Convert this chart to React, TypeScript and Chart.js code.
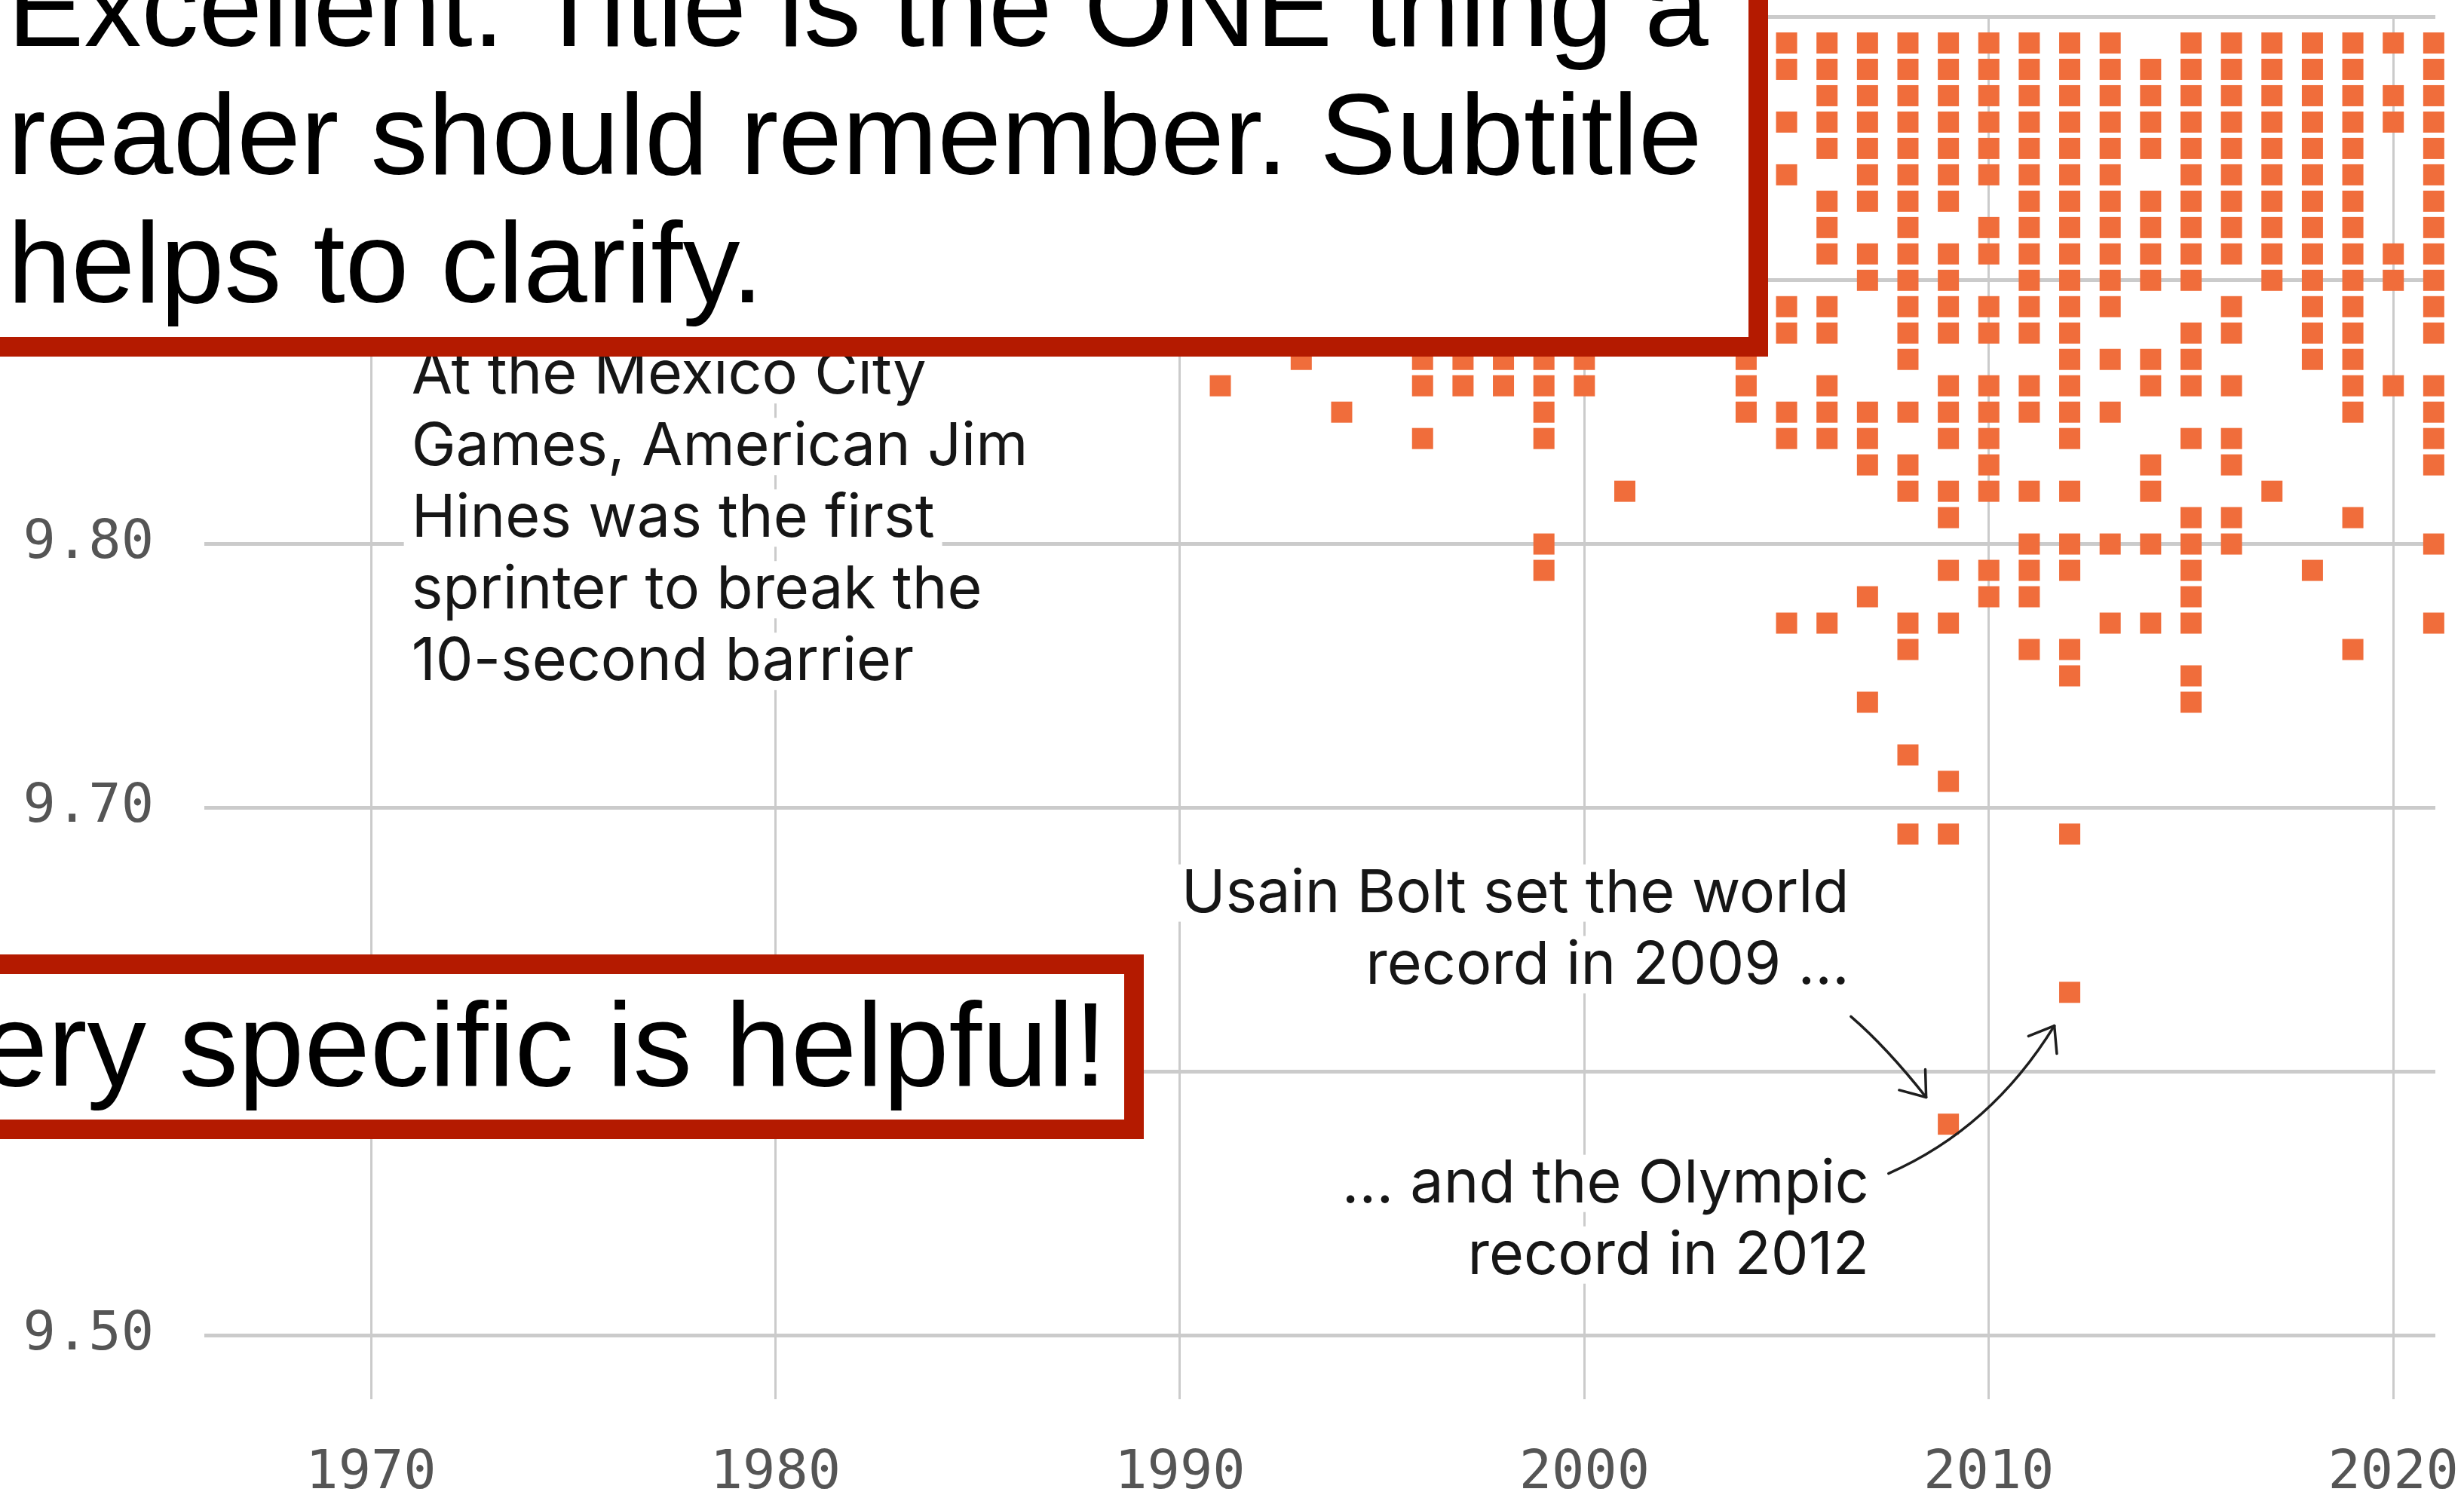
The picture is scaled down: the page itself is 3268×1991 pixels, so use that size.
import React, { useEffect, useRef } from 'react';
import { Chart, registerables } from 'chart.js';

Chart.register(...registerables);

// ---- Data: sub-10 second 100m performances (year, time) visible in the reference ----
const YEARS: number[] = [
  1991, 1993, 1994, 1996, 1997, 1998, 1999, 2000, 2001, 2004, 2005, 2006, 2007, 2008,
  2009, 2010, 2011, 2012, 2013, 2014, 2015, 2016, 2017, 2018, 2019, 2020, 2021,
];

const TIMES: number[][] = [
  [9.86], // 1991
  [9.87], // 1993
  [9.85], // 1994
  [9.87, 9.86, 9.84], // 1996
  [9.87, 9.86], // 1997
  [9.87, 9.86], // 1998
  [9.87, 9.86, 9.85, 9.84, 9.8, 9.79], // 1999
  [9.87, 9.86], // 2000
  [9.82], // 2001
  [9.87, 9.86, 9.85], // 2004
  [9.99, 9.98, 9.96, 9.94, 9.89, 9.88, 9.85, 9.84, 9.77], // 2005
  [9.99, 9.98, 9.97, 9.96, 9.95, 9.93, 9.92, 9.91, 9.89, 9.88, 9.86, 9.85, 9.84, 9.77], // 2006
  [9.99, 9.98, 9.97, 9.96, 9.95, 9.94, 9.93, 9.91, 9.9, 9.85, 9.84, 9.83, 9.78, 9.74], // 2007
  [9.99, 9.98, 9.97, 9.96, 9.95, 9.94, 9.93, 9.92, 9.91, 9.9, 9.89, 9.88, 9.87, 9.85, 9.83, 9.82, 9.77, 9.76, 9.72, 9.69], // 2008
  [9.99, 9.98, 9.97, 9.96, 9.95, 9.94, 9.93, 9.91, 9.9, 9.89, 9.88, 9.86, 9.85, 9.84, 9.82, 9.81, 9.79, 9.77, 9.71, 9.69, 9.58], // 2009
  [9.99, 9.98, 9.97, 9.96, 9.95, 9.94, 9.92, 9.91, 9.89, 9.88, 9.86, 9.85, 9.84, 9.83, 9.82, 9.79, 9.78], // 2010
  [9.99, 9.98, 9.97, 9.96, 9.95, 9.94, 9.93, 9.92, 9.91, 9.9, 9.89, 9.88, 9.86, 9.85, 9.82, 9.8, 9.79, 9.78, 9.76], // 2011
  [9.99, 9.98, 9.97, 9.96, 9.95, 9.94, 9.93, 9.92, 9.91, 9.9, 9.89, 9.88, 9.87, 9.86, 9.85, 9.84, 9.82, 9.8, 9.79, 9.76, 9.75, 9.69, 9.63], // 2012
  [9.99, 9.98, 9.97, 9.96, 9.95, 9.94, 9.93, 9.92, 9.91, 9.9, 9.89, 9.87, 9.85, 9.8, 9.77], // 2013
  [9.98, 9.97, 9.96, 9.95, 9.93, 9.92, 9.91, 9.9, 9.87, 9.86, 9.83, 9.82, 9.8, 9.77], // 2014
  [9.99, 9.98, 9.97, 9.96, 9.95, 9.94, 9.93, 9.92, 9.91, 9.9, 9.88, 9.87, 9.86, 9.84, 9.81, 9.8, 9.79, 9.78, 9.77, 9.75, 9.74], // 2015
  [9.99, 9.98, 9.97, 9.96, 9.95, 9.94, 9.93, 9.92, 9.91, 9.89, 9.88, 9.86, 9.84, 9.83, 9.81, 9.8], // 2016
  [9.99, 9.98, 9.97, 9.96, 9.95, 9.94, 9.93, 9.92, 9.91, 9.9, 9.82], // 2017
  [9.99, 9.98, 9.97, 9.96, 9.95, 9.94, 9.93, 9.92, 9.91, 9.9, 9.89, 9.88, 9.87, 9.79], // 2018
  [9.99, 9.98, 9.97, 9.96, 9.95, 9.94, 9.93, 9.92, 9.91, 9.9, 9.89, 9.88, 9.87, 9.86, 9.85, 9.81, 9.76], // 2019
  [9.99, 9.97, 9.96, 9.91, 9.9, 9.86], // 2020
  [9.99, 9.98, 9.97, 9.96, 9.95, 9.94, 9.93, 9.92, 9.91, 9.9, 9.89, 9.88, 9.86, 9.85, 9.84, 9.83, 9.8, 9.77], // 2021
];

const X_TICKS: number[] = [1970, 1980, 1990, 2000, 2010, 2020];
const Y_TICKS: number[] = [9.5, 9.6, 9.7, 9.8, 9.9, 10.0];

const TITLE_LINES: string[] = [
  'Excellent: Title is the ONE thing a',
  'reader should remember. Subtitle',
  'helps to clarify.',
];
const NOTE_TEXT = 'Being very specific is helpful!';

const HINES_LINES: string[] = [
  'At the Mexico City',
  'Games, American Jim',
  'Hines was the first',
  'sprinter to break the',
  '10-second barrier',
];
const BOLT_LINES: string[] = ['Usain Bolt set the world', 'record in 2009 ...'];
const OLYMPIC_LINES: string[] = ['... and the Olympic', 'record in 2012'];

const ORANGE = '#F06D3B';
const GRID = '#cbcbcb';
const RED = '#B41A00';
const ANNOT_FONT = '79px Inter';
const LINE_H = 95;

function drawLines(ctx: CanvasRenderingContext2D, lines: string[], x: number, y0: number, align: 'left' | 'right') {
  ctx.font = ANNOT_FONT;
  ctx.textAlign = align;
  ctx.textBaseline = 'alphabetic';
  lines.forEach((line, i) => {
    const by = y0 + i * LINE_H;
    const w = ctx.measureText(line).width;
    const left = align === 'left' ? x : x - w;
    ctx.fillStyle = '#ffffff';
    ctx.fillRect(left - 10, by - 63, w + 20, 76);
  });
  lines.forEach((line, i) => {
    const by = y0 + i * LINE_H;
    ctx.fillStyle = '#161616';
    ctx.fillText(line, x, by);
  });
}

function drawArrow(
  ctx: CanvasRenderingContext2D,
  p0: [number, number],
  c: [number, number],
  p1: [number, number],
) {
  ctx.strokeStyle = '#1e1e1e';
  ctx.lineWidth = 3.5;
  ctx.lineCap = 'round';
  ctx.beginPath();
  ctx.moveTo(p0[0], p0[1]);
  ctx.quadraticCurveTo(c[0], c[1], p1[0], p1[1]);
  ctx.stroke();
  const ang = Math.atan2(p1[1] - c[1], p1[0] - c[0]);
  const len = 37;
  for (const s of [-1, 1]) {
    ctx.beginPath();
    ctx.moveTo(p1[0], p1[1]);
    ctx.lineTo(p1[0] - len * Math.cos(ang + s * 0.64), p1[1] - len * Math.sin(ang + s * 0.64));
    ctx.stroke();
  }
}

const annotationPlugin = {
  id: 'sprintAnnotations',
  afterDatasetsDraw(chart: any) {
    const { ctx, scales } = chart;
    const xs = scales.x;
    const ys = scales.y;
    const X = (v: number) => xs.getPixelForValue(v);
    const Y = (v: number) => ys.getPixelForValue(v);
    ctx.save();
    drawLines(ctx, HINES_LINES, X(1971.0), Y(9.857), 'left');
    drawLines(ctx, BOLT_LINES, X(2006.55), Y(9.6605), 'right');
    drawLines(ctx, OLYMPIC_LINES, X(2007.04), Y(9.5504), 'right');
    drawArrow(ctx, [X(2006.59), Y(9.6208)], [X(2007.47), Y(9.6092)], [X(2008.45), Y(9.5902)]);
    drawArrow(ctx, [X(2007.52), Y(9.5613)], [X(2010.06), Y(9.5784)], [X(2011.62), Y(9.6173)]);
    ctx.restore();
  },
};

export default function App() {
  const canvasRef = useRef<HTMLCanvasElement | null>(null);

  useEffect(() => {
    const canvas = canvasRef.current;
    if (!canvas) return;
    const points = YEARS.flatMap((yr, i) => TIMES[i].map((t) => ({ x: yr, y: t })));
    const tickFont = { family: '"DejaVu Sans Mono", monospace', size: 72 };
    const chart = new Chart(canvas, {
      type: 'scatter',
      data: {
        datasets: [
          {
            data: points,
            pointStyle: 'rect',
            pointRadius: 19.8,
            pointHoverRadius: 19.8,
            backgroundColor: ORANGE,
            borderWidth: 0,
            clip: false,
          } as any,
        ],
      },
      options: {
        responsive: false,
        animation: false,
        devicePixelRatio: 1,
        events: [],
        layout: { padding: { top: 22, right: 38, left: 0, bottom: 0 } },
        plugins: { legend: { display: false }, tooltip: { enabled: false } },
        scales: {
          x: {
            type: 'linear',
            position: 'bottom',
            min: 1965.88,
            max: 2021.04,
            afterBuildTicks: (s: any) => {
              s.ticks = X_TICKS.map((v) => ({ value: v }));
            },
            afterFit: (s: any) => {
              s.height = 220;
              s.paddingLeft = 0;
              s.paddingRight = 0;
            },
            grid: {
              color: GRID,
              lineWidth: 3,
              drawTicks: true,
              tickLength: 85,
              tickColor: GRID,
              tickWidth: 3,
            },
            border: { display: false },
            ticks: {
              font: tickFont,
              color: '#555555',
              padding: 56,
              maxRotation: 0,
              autoSkip: false,
              callback: (v: any) => String(v),
            },
          },
          y: {
            type: 'linear',
            min: 9.5,
            max: 10.0,
            afterBuildTicks: (s: any) => {
              s.ticks = Y_TICKS.map((v) => ({ value: v }));
            },
            afterFit: (s: any) => {
              s.width = 271;
              s.paddingTop = 0;
              s.paddingBottom = 0;
            },
            grid: { color: GRID, lineWidth: 5, drawTicks: false },
            border: { display: false },
            ticks: {
              font: { ...tickFont, lineHeight: 0.5 },
              color: '#555555',
              padding: 67,
              autoSkip: false,
              callback: (v: any) => Number(v).toFixed(2),
            },
          },
        },
      } as any,
      plugins: [annotationPlugin],
    });
    return () => chart.destroy();
  }, []);

  return (
    <div
      style={{
        position: 'absolute',
        left: 0,
        top: 0,
        width: 3268,
        height: 1991,
        overflow: 'hidden',
        background: '#ffffff',
      }}
    >
      <canvas ref={canvasRef} width={3268} height={1991} style={{ position: 'absolute', left: 0, top: 0 }} />
      <div
        style={{
          position: 'absolute',
          left: -60,
          top: -60,
          width: 2405,
          height: 533,
          border: `26px solid ${RED}`,
          boxSizing: 'border-box',
          background: '#ffffff',
        }}
      />
      <div
        style={{
          position: 'absolute',
          left: 10,
          top: -77,
          font: '152px "Liberation Sans", Arial, sans-serif',
          lineHeight: '170px',
          color: '#000000',
          whiteSpace: 'pre',
        }}
      >
        {TITLE_LINES.map((l, i) => (
          <div key={i}>{l}</div>
        ))}
      </div>
      <div
        style={{
          position: 'absolute',
          left: -60,
          top: 1266,
          width: 1577,
          height: 245,
          border: `26px solid ${RED}`,
          boxSizing: 'border-box',
          background: '#ffffff',
        }}
      />
      <div
        style={{
          position: 'absolute',
          right: 3268 - 1468,
          top: 1301,
          font: '157px "Liberation Sans", Arial, sans-serif',
          lineHeight: '170px',
          color: '#000000',
          whiteSpace: 'nowrap',
        }}
      >
        {NOTE_TEXT}
      </div>
    </div>
  );
}
